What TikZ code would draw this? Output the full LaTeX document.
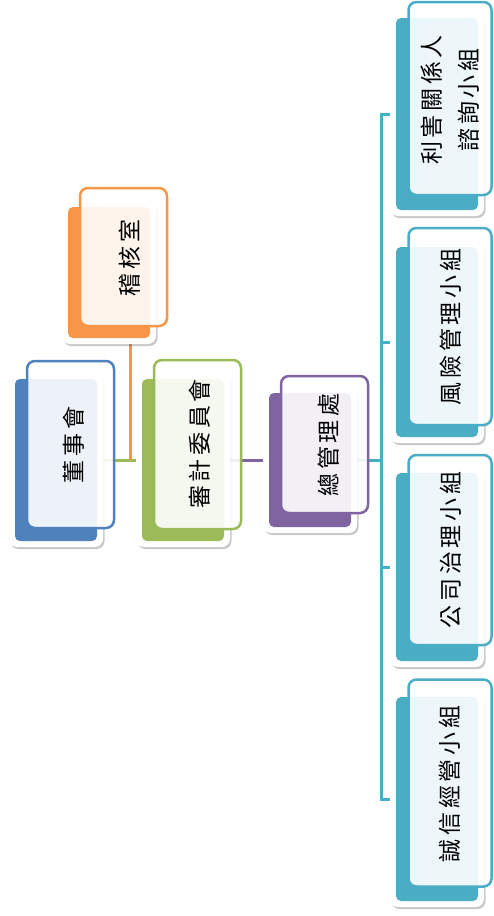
\documentclass[tikz,border=0pt]{standalone}
\usepackage{fontspec}
\usepackage{graphicx}
\newfontfamily\cjk[LetterSpace=16]{Noto Sans CJK TC}
\usetikzlibrary{shadows}
\definecolor{cblue}{HTML}{4F81BD}
\definecolor{corange}{HTML}{F79646}
\definecolor{cgreen}{HTML}{9BBB59}
\definecolor{cpurple}{HTML}{8064A2}
\definecolor{cteal}{HTML}{4BACC6}
\tikzset{
  outerbox/.style={fill=white, rounded corners=8pt, inner sep=0pt, outer sep=0pt,
    minimum width=94pt,
    drop shadow={shadow xshift=1.5pt, shadow yshift=-2pt, opacity=0.22, fill=black}},
  fillbox/.style={fill=#1, rounded corners=5pt, inner sep=0pt, outer sep=0pt, minimum width=82pt},
  frontbox/.style={draw=#1, line width=2.5pt, fill=white, fill opacity=0.9,
    rounded corners=8pt, inner sep=0pt, outer sep=0pt},
  lbl/.style={rotate=90, inner sep=0pt, align=center,
    font=\cjk\fontsize{23pt}{37pt}\selectfont},
  conn/.style={line width=3pt, draw=#1}
}
\begin{document}
\begin{tikzpicture}[x=1pt, y=-1pt]
\useasboundingbox (0,0) rectangle (494,916);

\coordinate (c1) at (56,460);
\coordinate (c2) at (109,272.5);
\coordinate (c3) at (183,460);
\coordinate (c4) at (310,460);
\coordinate (c5) at (437,114);
\coordinate (c6) at (437,342);
\coordinate (c7) at (437,567);
\coordinate (c8) at (437,799);
\coordinate (j1) at (130,460);
\coordinate (bus) at (381.5,460);

% connectors
\draw[conn=cgreen] (c1) -- (c3);
\draw[conn=corange] (j1) -- (j1 |- c2);
\draw[conn=cpurple] (c3) -- (c4);
\draw[conn=cteal] (c4) -- (bus);
\draw[conn=cteal] (c5) -| (bus) |- (c8);
\draw[conn=cteal] (bus |- c6) -- (c6);
\draw[conn=cteal] (bus |- c7) -- (c7);

% 董事會
\node[outerbox, minimum height=174pt] (w1) at (c1) {};
\node[fillbox=cblue, minimum height=162pt] (b1) at (c1) {};
\node[frontbox=cblue, minimum width=87pt, minimum height=167pt] (f1) at (70.5,444.5) {};
\node[lbl] (t1) at (74,445) {董事會};

% 稽核室
\node[outerbox, minimum height=143pt] (w2) at (c2) {};
\node[fillbox=corange, minimum height=131pt] (b2) at (c2) {};
\node[frontbox=corange, minimum width=87pt, minimum height=138pt] (f2) at (123.5,257) {};
\node[lbl] (t2) at (130,258) {稽核室};

% 審計委員會
\node[outerbox, minimum height=174pt] (w3) at (c3) {};
\node[fillbox=cgreen, minimum height=162pt] (b3) at (c3) {};
\node[frontbox=cgreen, minimum width=87pt, minimum height=169pt] (f3) at (197.5,444.5) {};
\node[lbl] (t3) at (200,444) {審計委員會};

% 總管理處
\node[outerbox, minimum height=146pt] (w4) at (c4) {};
\node[fillbox=cpurple, minimum height=134pt] (b4) at (c4) {};
\node[frontbox=cpurple, minimum width=87pt, minimum height=137pt] (f4) at (324.5,444.5) {};
\node[lbl] (t4) at (329,445) {總管理處};

% 利害關係人諮詢小組
\node[outerbox, minimum height=204pt] (w5) at (c5) {};
\node[fillbox=cteal, minimum height=192pt] (b5) at (c5) {};
\node[frontbox=cteal, minimum width=83pt, minimum height=193pt] (f5) at (450,98.5) {};
\node[lbl] (t5) at (450,100) {利害關係人\\諮詢小組};

% 風險管理小組
\node[outerbox, minimum height=202pt] (w6) at (c6) {};
\node[fillbox=cteal, minimum height=190pt] (b6) at (c6) {};
\node[frontbox=cteal, minimum width=83pt, minimum height=197pt] (f6) at (450,326.5) {};
\node[lbl] (t6) at (451,327) {風險管理小組};

% 公司治理小組
\node[outerbox, minimum height=200pt] (w7) at (c7) {};
\node[fillbox=cteal, minimum height=188pt] (b7) at (c7) {};
\node[frontbox=cteal, minimum width=83pt, minimum height=190pt] (f7) at (450,550) {};
\node[lbl] (t7) at (451,550) {公司治理小組};

% 誠信經營小組
\node[outerbox, minimum height=216pt] (w8) at (c8) {};
\node[fillbox=cteal, minimum height=204pt] (b8) at (c8) {};
\node[frontbox=cteal, minimum width=83pt, minimum height=207pt] (f8) at (450,783) {};
\node[lbl] (t8) at (450,784) {誠信經營小組};
\end{tikzpicture}
\end{document}
